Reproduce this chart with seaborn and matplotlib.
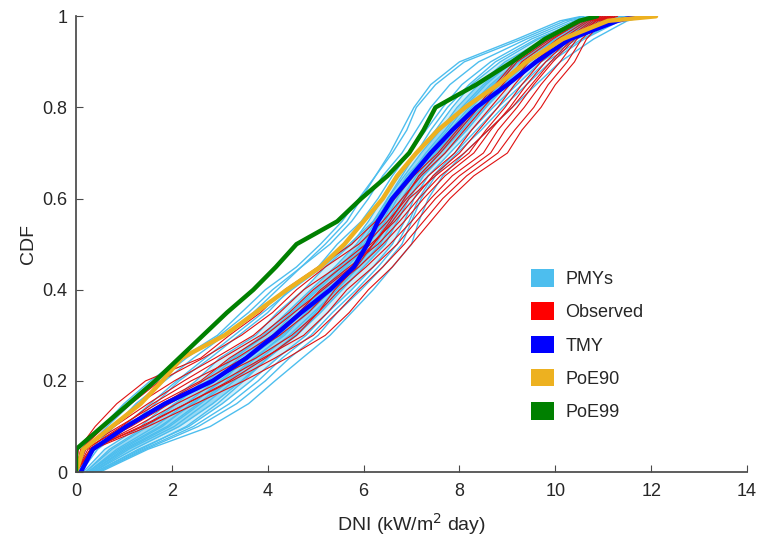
import matplotlib
matplotlib.use("Agg")
import matplotlib.pyplot as plt
import matplotlib.ticker as mticker
from matplotlib.patches import Patch
import seaborn as sns

# CDF levels; every curve below gives the DNI value (kW/m2 day) reached at each level
LEVELS = [0.0, 0.05, 0.1, 0.15, 0.2, 0.25, 0.3, 0.35, 0.4, 0.45, 0.5,
          0.55, 0.6, 0.65, 0.7, 0.75, 0.8, 0.85, 0.9, 0.95, 0.99, 1.0]

TMY = [0.10, 0.35, 1.05, 1.85, 2.85, 3.55, 4.15, 4.70, 5.30, 5.80, 6.08,
       6.30, 6.60, 7.00, 7.40, 7.85, 8.35, 9.00, 9.60, 10.30, 11.30, 11.70]
POE90 = [0.00, 0.15, 0.75, 1.35, 1.80, 2.20, 3.10, 3.75, 4.40, 5.10, 5.60,
         6.00, 6.40, 6.70, 7.10, 7.55, 8.12, 8.80, 9.40, 10.15, 11.10, 12.10]
POE99 = [0.00, 0.00, 0.55, 1.10, 1.65, 2.15, 2.65, 3.15, 3.70, 4.17, 4.60,
         5.45, 5.95, 6.50, 6.95, 7.25, 7.50, 8.35, 9.10, 9.78, 10.50, 10.87]

PMYS = [
    [0.00, 0.12, 0.55, 1.00, 1.55, 2.20, 2.95, 3.45, 3.95, 4.60, 5.10, 5.55, 5.90, 6.25, 6.60, 6.90, 7.10, 7.50, 8.10, 9.30, 10.20, 10.60],
    [0.05, 0.30, 0.80, 1.25, 1.85, 2.45, 3.10, 3.70, 4.20, 4.70, 5.30, 5.75, 6.10, 6.40, 6.80, 7.10, 7.40, 7.80, 8.40, 9.40, 10.30, 10.70],
    [0.10, 0.45, 1.10, 1.65, 2.15, 2.80, 3.40, 4.00, 4.45, 5.05, 5.45, 5.95, 6.30, 6.60, 6.95, 7.30, 7.65, 8.05, 8.65, 9.50, 10.40, 10.90],
    [0.15, 0.60, 1.35, 1.90, 2.50, 3.00, 3.75, 4.20, 4.75, 5.20, 5.75, 6.10, 6.40, 6.75, 7.10, 7.50, 7.85, 8.25, 8.85, 9.65, 10.55, 11.00],
    [0.20, 0.75, 1.50, 2.10, 2.65, 3.25, 3.90, 4.40, 4.90, 5.40, 5.85, 6.20, 6.50, 6.85, 7.20, 7.60, 7.95, 8.40, 8.95, 9.80, 10.65, 11.10],
    [0.25, 0.85, 1.65, 2.30, 2.90, 3.40, 4.10, 4.55, 5.05, 5.55, 6.00, 6.30, 6.60, 6.90, 7.35, 7.75, 8.10, 8.55, 9.10, 9.90, 10.75, 11.20],
    [0.25, 0.95, 1.80, 2.40, 3.05, 3.55, 4.20, 4.70, 5.20, 5.65, 6.10, 6.45, 6.70, 7.00, 7.40, 7.85, 8.25, 8.70, 9.25, 10.05, 10.85, 11.30],
    [0.30, 1.00, 1.90, 2.55, 3.15, 3.70, 4.35, 4.80, 5.30, 5.80, 6.20, 6.50, 6.80, 7.10, 7.50, 7.95, 8.35, 8.80, 9.35, 10.10, 10.90, 11.35],
    [0.35, 1.10, 2.05, 2.70, 3.30, 3.85, 4.45, 4.95, 5.45, 5.90, 6.35, 6.60, 6.85, 7.15, 7.60, 8.05, 8.45, 8.90, 9.45, 10.20, 11.00, 11.45],
    [0.35, 1.20, 2.15, 2.85, 3.45, 4.00, 4.60, 5.10, 5.55, 6.00, 6.45, 6.70, 6.95, 7.25, 7.70, 8.15, 8.55, 9.00, 9.55, 10.30, 11.10, 11.50],
    [0.40, 1.30, 2.35, 3.05, 3.65, 4.20, 4.80, 5.25, 5.75, 6.20, 6.60, 6.85, 7.05, 7.35, 7.80, 8.25, 8.70, 9.20, 9.70, 10.45, 11.20, 11.60],
    [0.45, 1.45, 2.55, 3.35, 3.95, 4.45, 5.05, 5.45, 5.95, 6.40, 6.80, 7.00, 7.20, 7.50, 7.95, 8.45, 8.90, 9.40, 9.90, 10.60, 11.35, 11.75],
    [0.50, 1.50, 2.80, 3.60, 4.15, 4.72, 5.30, 5.75, 6.20, 6.60, 7.00, 7.15, 7.35, 7.65, 8.10, 8.60, 9.10, 9.60, 10.10, 10.80, 11.50, 11.90],
    [0.05, 0.40, 1.00, 1.55, 2.10, 2.70, 3.30, 3.90, 4.50, 5.15, 5.70, 6.20, 6.60, 7.00, 7.45, 7.95, 8.50, 9.00, 9.55, 10.40, 11.25, 11.70],
    [0.40, 1.35, 2.30, 2.95, 3.50, 4.00, 4.55, 5.00, 5.40, 5.75, 6.05, 6.30, 6.50, 6.80, 7.10, 7.40, 7.75, 8.20, 8.75, 9.60, 10.50, 11.00],
    [0.02, 0.20, 0.65, 1.15, 1.70, 2.30, 3.00, 3.60, 4.10, 4.70, 5.20, 5.65, 5.95, 6.25, 6.55, 6.80, 7.05, 7.40, 8.00, 9.20, 10.10, 10.55],
    [0.20, 0.70, 1.45, 2.05, 2.75, 3.30, 3.95, 4.50, 5.00, 5.50, 5.95, 6.25, 6.55, 6.95, 7.30, 7.70, 8.05, 8.50, 9.05, 9.85, 10.70, 11.15],
    [0.30, 1.05, 1.95, 2.60, 3.20, 3.75, 4.30, 4.85, 5.35, 5.85, 6.25, 6.55, 6.85, 7.20, 7.55, 8.00, 8.40, 8.85, 9.40, 10.15, 10.95, 11.40],
    [0.25, 0.90, 1.75, 2.45, 3.00, 3.60, 4.25, 4.65, 5.15, 5.60, 6.05, 6.40, 6.65, 7.05, 7.45, 7.80, 8.20, 8.65, 9.20, 10.00, 10.80, 11.25],
    [0.45, 1.40, 2.45, 3.20, 3.80, 4.30, 4.90, 5.35, 5.85, 6.30, 6.70, 6.95, 7.15, 7.45, 7.90, 8.35, 8.80, 9.30, 9.80, 10.55, 11.30, 11.70],
]

OBSERVED = [
    [0.00, 0.05, 0.40, 0.85, 1.45, 2.60, 3.20, 3.85, 4.35, 5.05, 5.75, 6.25, 6.65, 7.05, 7.55, 7.95, 8.35, 8.75, 9.15, 9.85, 10.50, 10.80],
    [0.00, 0.10, 0.60, 1.15, 1.75, 2.65, 3.45, 4.10, 4.60, 5.20, 5.90, 6.40, 6.80, 7.20, 7.70, 8.10, 8.50, 8.90, 9.30, 9.95, 10.55, 10.85],
    [0.00, 0.15, 0.75, 1.30, 2.05, 2.90, 3.70, 4.25, 4.75, 5.45, 6.05, 6.50, 6.90, 7.35, 7.90, 8.25, 8.65, 9.05, 9.45, 10.05, 10.65, 10.95],
    [0.00, 0.15, 0.80, 1.50, 2.25, 3.05, 3.85, 4.45, 4.95, 5.55, 6.15, 6.65, 7.05, 7.45, 8.00, 8.40, 8.80, 9.15, 9.55, 10.15, 10.70, 11.00],
    [0.00, 0.20, 0.95, 1.60, 2.40, 3.35, 4.10, 4.65, 5.10, 5.70, 6.30, 6.75, 7.15, 7.60, 8.20, 8.55, 8.95, 9.30, 9.70, 10.25, 10.75, 11.05],
    [0.00, 0.20, 1.00, 1.80, 2.65, 3.50, 4.25, 4.85, 5.30, 5.90, 6.40, 6.85, 7.25, 7.70, 8.30, 8.65, 9.05, 9.40, 9.80, 10.30, 10.80, 11.10],
    [0.00, 0.25, 1.15, 1.95, 2.80, 3.75, 4.50, 5.05, 5.50, 6.05, 6.55, 7.00, 7.40, 7.85, 8.50, 8.80, 9.20, 9.55, 9.95, 10.40, 10.85, 11.15],
    [0.00, 0.30, 1.25, 2.10, 3.05, 3.90, 4.75, 5.25, 5.65, 6.20, 6.70, 7.10, 7.50, 8.00, 8.65, 8.95, 9.35, 9.70, 10.10, 10.45, 10.90, 11.20],
    [0.00, 0.30, 1.35, 2.30, 3.25, 4.15, 4.95, 5.45, 5.90, 6.40, 6.85, 7.25, 7.65, 8.15, 8.80, 9.15, 9.55, 9.85, 10.25, 10.55, 10.95, 11.25],
    [0.00, 0.35, 1.50, 2.50, 3.50, 4.40, 5.20, 5.70, 6.10, 6.60, 7.00, 7.40, 7.80, 8.30, 9.00, 9.30, 9.70, 10.00, 10.40, 10.65, 11.00, 11.30],
    [0.00, 0.10, 0.90, 1.70, 2.60, 3.20, 3.95, 4.55, 5.15, 5.75, 6.20, 6.60, 6.95, 7.50, 8.10, 8.60, 9.10, 9.50, 9.90, 10.35, 10.85, 11.15],
    [0.00, 0.30, 1.40, 2.30, 3.20, 3.95, 4.60, 5.05, 5.40, 5.85, 6.20, 6.55, 6.85, 7.15, 7.60, 8.00, 8.40, 8.80, 9.20, 9.90, 10.60, 10.90],
]

LEGEND_LABELS = ["PMYs", "Observed", "TMY", "PoE90", "PoE99"]
COLORS = {"PMYs": "#4dbeee", "Observed": "#ff0000", "TMY": "#0000ff",
          "PoE90": "#edb120", "PoE99": "#008000"}
X_TICKS = [0, 2, 4, 6, 8, 10, 12, 14]
Y_TICKS = [0, 0.2, 0.4, 0.6, 0.8, 1]

sns.set_theme(style="ticks")
plt.rcParams["font.family"] = ["Liberation Sans", "DejaVu Sans"]
plt.rcParams["axes.edgecolor"] = "#4a4a4a"

fig = plt.figure(figsize=(7.6, 5.42), dpi=100)
ax = fig.add_axes([0.1, 0.129, 0.883, 0.841])

# the PMY bundle is so dense in the middle that it reads as a filled band
ax.fill_betweenx(LEVELS, PMYS[3], PMYS[10], color=COLORS["PMYs"], alpha=0.25, lw=0)
ax.fill_betweenx(LEVELS, PMYS[4], PMYS[9], color=COLORS["PMYs"], alpha=0.45, lw=0)

for curve in PMYS:
    sns.lineplot(x=curve, y=LEVELS, sort=False, estimator=None, ax=ax,
                 color=COLORS["PMYs"], lw=1.0)

for curve in OBSERVED:
    sns.lineplot(x=curve, y=LEVELS, sort=False, estimator=None, ax=ax,
                 color="#e01010", lw=0.8)

sns.lineplot(x=TMY, y=LEVELS, sort=False, estimator=None, ax=ax,
             color=COLORS["TMY"], lw=3.2)
sns.lineplot(x=POE90, y=LEVELS, sort=False, estimator=None, ax=ax,
             color=COLORS["PoE90"], lw=3.2)
sns.lineplot(x=POE99, y=LEVELS, sort=False, estimator=None, ax=ax,
             color=COLORS["PoE99"], lw=3.2)

ax.set_xlim(0, 14)
ax.set_ylim(0, 1)
ax.set_xticks(X_TICKS)
ax.set_yticks(Y_TICKS)
ax.yaxis.set_major_formatter(mticker.FuncFormatter(lambda v, _: f"{v:g}"))
ax.xaxis.set_major_formatter(mticker.FuncFormatter(lambda v, _: f"{v:g}"))
sns.despine(ax=ax)
ax.tick_params(direction="in", length=5, width=0.8, color="#4a4a4a",
               labelcolor="#262626", labelsize=13)
ax.tick_params(axis="x", pad=8)
ax.tick_params(axis="y", pad=6)

ax.set_xlabel("DNI (kW/m$^2$ day)", fontsize=14, color="#262626", labelpad=8)
ax.set_ylabel("CDF", fontsize=14, color="#262626", labelpad=4)

handles = [Patch(facecolor=COLORS[k], edgecolor="none") for k in LEGEND_LABELS]
ax.legend(handles, LEGEND_LABELS, loc="upper left", bbox_to_anchor=(0.678, 0.445),
          frameon=False, fontsize=13, handlelength=1.3, handleheight=1.1,
          handletextpad=0.6, labelspacing=0.8, borderpad=0, borderaxespad=0)

fig.savefig("out.png", dpi=100)
